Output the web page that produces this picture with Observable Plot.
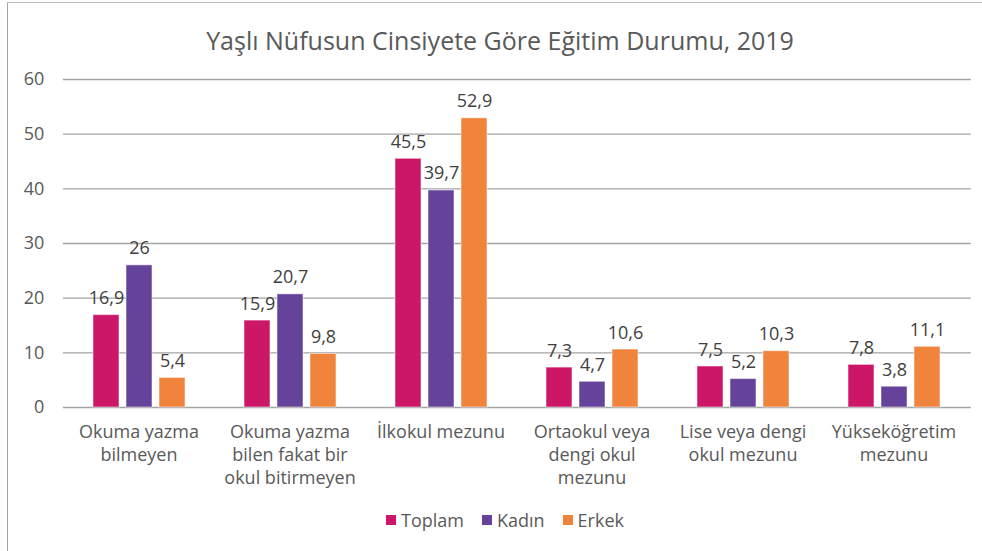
<!DOCTYPE html>
<html>
<head>
<meta charset="utf-8">
<script src="https://cdn.jsdelivr.net/npm/d3@7"></script>
<script src="https://cdn.jsdelivr.net/npm/@observablehq/plot@0.6"></script>
<style>
  html, body { margin: 0; padding: 0; background: #fff; }
  #wrap { position: relative; width: 982px; height: 551px; overflow: hidden; font-family: "Open Sans", Lato, sans-serif; color: #595959; }
  #frame { position: absolute; left: 7px; top: 2px; width: 1000px; height: 600px; border-left: 1.5px solid #a6a6a6; border-top: 1.5px solid #bfbfbf; box-sizing: border-box; }
  #title { position: absolute; left: 0; width: 1000px; top: 23px; text-align: center; font-size: 25px; font-weight: 400; color: #595959; line-height: 34px; }
  #chart { position: absolute; left: 0; top: 0; }
  #legend { position: absolute; left: 0; width: 1010px; top: 507px; display: flex; justify-content: center; gap: 18px; font-size: 18px; line-height: 26px; color: #595959; }
  .item { display: flex; align-items: center; gap: 5px; }
  .sw { width: 10px; height: 10px; display: inline-block; }
</style>
</head>
<body>
<div id="wrap">
  <div id="frame"></div>
  <div id="chart"></div>
  <div id="title">Yaşlı Nüfusun Cinsiyete Göre Eğitim Durumu, 2019</div>
  <div id="legend"></div>
</div>
<script>
const categories = [
  "Okuma yazma\nbilmeyen",
  "Okuma yazma\nbilen fakat bir\nokul bitirmeyen",
  "İlkokul mezunu",
  "Ortaokul veya\ndengi okul\nmezunu",
  "Lise veya dengi\nokul mezunu",
  "Yükseköğretim\nmezunu"
];
const seriesNames = ["Toplam", "Kadın", "Erkek"];
const toplam = [16.9, 15.9, 45.5, 7.3, 7.5, 7.8];
const kadin = [26, 20.7, 39.7, 4.7, 5.2, 3.8];
const erkek = [5.4, 9.8, 52.9, 10.6, 10.3, 11.1];
const colors = ["#cc1769", "#65439a", "#f0843c"];
const yTicks = [0, 10, 20, 30, 40, 50, 60];

const seriesValues = [toplam, kadin, erkek];
const data = [];
categories.forEach((c, i) => {
  seriesNames.forEach((s, j) => data.push({cat: c, series: s, value: seriesValues[j][i]}));
});
const fmt = v => String(v).replace(".", ",");

const W = 982, ML = 62, MR = 12;
const PI = 0.385, PO = PI / 2;
const innerW = W - ML - MR;
const step = innerW / (categories.length - PI + 2 * PO);
const facetOffset = PO * step; // distance from plot frame to first facet

const chart = Plot.plot({
  width: W,
  height: 500,
  marginTop: 79,
  marginBottom: 93,
  marginLeft: ML,
  marginRight: MR,
  style: {fontFamily: "'Open Sans', Lato, sans-serif", fontSize: "18px", color: "#595959", background: "transparent"},
  fx: {domain: categories, paddingInner: PI, paddingOuter: PO, label: null},
  x: {domain: seriesNames, paddingInner: 0.224, paddingOuter: 0, axis: null},
  y: {domain: [0, 60], axis: null},
  color: {domain: seriesNames, range: colors},
  marks: [
    Plot.axisY({ticks: yTicks, tickSize: -innerW, dx: -facetOffset, stroke: "#a3a3a3", strokeWidth: 1.4, tickFormat: () => "", label: null}),
    Plot.axisY({ticks: yTicks, tickSize: 0, tickPadding: 19, dx: -facetOffset, fontSize: 18, fill: "#595959", label: null, tickFormat: d => d}),
    Plot.axisFx({anchor: "bottom", tickSize: 0, tickPadding: 14, fontSize: 18, fill: "#595959", lineHeight: 1.28, label: null}),
    Plot.barY(data, {fx: "cat", x: "series", y: "value", fill: "series", stroke: "#ffffff", strokeOpacity: 0.5, strokeWidth: 1}),
    Plot.text(data, {fx: "cat", x: "series", y: "value", text: d => fmt(d.value), dy: -11, lineAnchor: "bottom", fontSize: 18, fill: "#404040"})
  ]
});
document.getElementById("chart").appendChild(chart);

const legend = document.getElementById("legend");
seriesNames.forEach((s, i) => {
  const it = document.createElement("div");
  it.className = "item";
  const sw = document.createElement("span");
  sw.className = "sw";
  sw.style.background = colors[i];
  const t = document.createElement("span");
  t.textContent = s;
  it.appendChild(sw); it.appendChild(t);
  legend.appendChild(it);
});
</script>
</body>
</html>
